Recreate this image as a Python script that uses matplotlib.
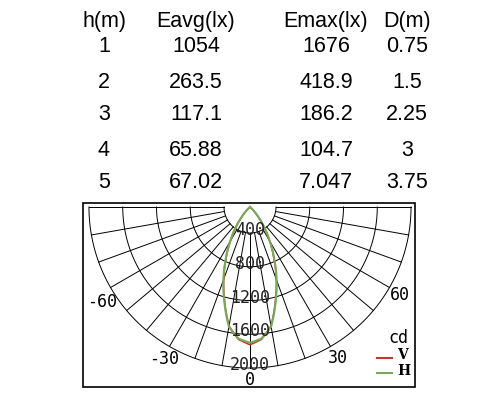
import numpy as np
import matplotlib
matplotlib.use("Agg")
import matplotlib.pyplot as plt
from matplotlib.patches import Rectangle

headers = ["h(m)", "Eavg(lx)", "Emax(lx)", "D(m)"]
h = ["1", "2", "3", "4", "5"]
eavg = ["1054", "263.5", "117.1", "65.88", "67.02"]
emax = ["1676", "418.9", "186.2", "104.7", "7.047"]
dist = ["0.75", "1.5", "2.25", "3", "3.75"]

ring_vals = [400, 800, 1200, 1600, 2000]
angle_labels = [-60, -30, 0, 30, 60]
lobe_angles = [0, 5, 10, 15, 20, 25, 30, 35, 40, 45, 50]
lobe_H = [1676, 1630, 1500, 1220, 960, 710, 490, 310, 160, 55, 0]
lobe_V = [1700, 1640, 1490, 1210, 950, 700, 485, 305, 155, 52, 0]

fig = plt.figure(figsize=(5, 4), dpi=100)
ax = fig.add_axes([0, 0, 1, 1])
ax.set_xlim(0, 500); ax.set_ylim(400, 0); ax.axis("off")
font = "Liberation Sans"

colx = [104, 196, 326, 407]
rowy = [21, 46, 82, 115, 150, 183]
for x, t in zip(colx, headers):
    ax.text(x, rowy[0], t, ha="center", va="center", fontsize=15.5, family=font)
for i in range(5):
    for x, t in zip(colx, [h[i], eavg[i], emax[i], dist[i]]):
        ax.text(x, rowy[i + 1], t, ha="center", va="center", fontsize=15.5, family=font)

cx, cy = 250, 207
left, right, top, bot = 83, 415, 203, 387
ax.add_patch(Rectangle((left, top), right - left, bot - top, fill=False, lw=1.2, ec="black"))

def rpx(v):
    return 26 + (v - 400) * 0.0844

t = np.linspace(0, np.pi, 200)
for v in ring_vals:
    r = rpx(v)
    ax.plot(cx + r * np.cos(t), cy + r * np.sin(t), color="black", lw=0.7)
for a in range(-90, 91, 10):
    th = np.deg2rad(a)
    r0, r1 = rpx(400), rpx(2000)
    ax.plot([cx + r0 * np.sin(th), cx + r1 * np.sin(th)],
            [cy + r0 * np.cos(th), cy + r1 * np.cos(th)], color="black", lw=0.7)

def lobe(vals):
    ang = np.concatenate([-np.array(lobe_angles[::-1]), np.array(lobe_angles[1:])]).astype(float)
    v = np.concatenate([np.array(vals[::-1]), np.array(vals[1:])]).astype(float)
    fine = np.linspace(ang[0], ang[-1], 400)
    vf = np.interp(fine, ang, v)
    r = vf * 0.081
    th = np.deg2rad(fine)
    return cx + r * np.sin(th), cy + r * np.cos(th)

xv, yv = lobe(lobe_V)
ax.plot(xv, yv, color="#c0392b", lw=1.2)
xh, yh = lobe(lobe_H)
ax.plot(xh, yh, color="#7aa95c", lw=1.5)

mono = "DejaVu Sans Mono"
for v in ring_vals:
    ax.text(cx, cy + rpx(v) - 3, str(v), ha="center", va="center", fontsize=12,
            family=mono, color="#222222")
ax.text(cx, 380, "0", ha="center", va="center", fontsize=12, family=mono)
ax.text(102, 302, "-60", ha="center", va="center", fontsize=12, family=mono)
ax.text(400, 295, "60", ha="center", va="center", fontsize=12, family=mono)
ax.text(164, 359, "-30", ha="center", va="center", fontsize=12, family=mono)
ax.text(338, 358, "30", ha="center", va="center", fontsize=12, family=mono)

ax.text(398, 338, "cd", ha="center", va="center", fontsize=12, family=mono)
ax.plot([377, 392], [358, 358], color="#c0392b", lw=1.5)
ax.text(397, 355, "V", ha="left", va="center", fontsize=10, family="DejaVu Serif", weight="bold")
ax.plot([377, 392], [373, 373], color="#7aa95c", lw=1.5)
ax.text(397, 371, "H", ha="left", va="center", fontsize=10, family="DejaVu Serif", weight="bold")

fig.savefig("out.png", dpi=100)
